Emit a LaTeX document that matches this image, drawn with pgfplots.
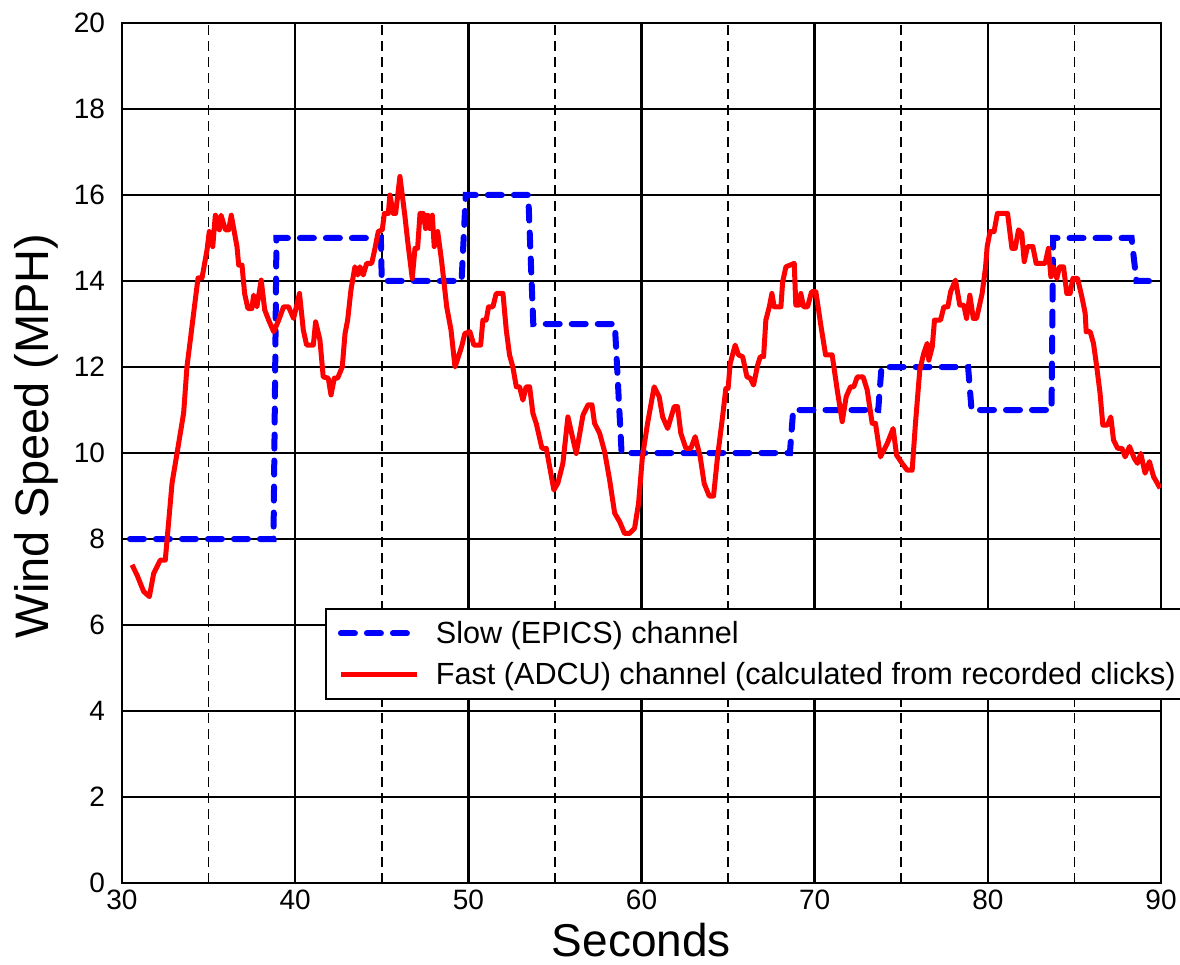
\documentclass[border=0pt]{standalone}
\usepackage{fontspec}
\setmainfont{Liberation Sans}
\usepackage{pgfplots}
\pgfplotsset{compat=1.18}

\begin{document}
\begin{tikzpicture}
\begin{axis}[
  name=ax,
  width=519.5pt, height=430pt, scale only axis,
  xmin=30, xmax=90, ymin=0, ymax=20,
  xtick={30,40,...,90}, minor xtick={35,45,...,85},
  ytick={0,2,...,20},
  major tick length=0pt, minor tick length=0pt,
  grid=both,
  major grid style={black, line width=1.2pt},
  minor grid style={black, line width=0.9pt, dash pattern=on 5pt off 3pt},
  axis line style={black, line width=1.2pt},
  /pgf/number format/assume math mode=true,
  ticklabel style={font=\fontsize{14}{16}\selectfont},
  yticklabel style={xshift=-5pt},
  xticklabel style={yshift=0pt},
  xlabel={Seconds}, ylabel={Wind Speed (MPH)},
  xlabel style={font=\fontsize{23}{26}\selectfont, at={(axis description cs:0.5,-0.066)}, anchor=center},
  ylabel style={font=\fontsize{23.5}{26}\selectfont, at={(axis description cs:-0.082,0.52)}, anchor=center},
  legend cell align=left,
  legend style={at={(rel axis cs:0.1954,0.3198)}, anchor=north west,
    draw=black, line width=0.9pt, fill=white,
    font=\fontsize{15.3}{18}\selectfont, row sep=4pt,
    inner xsep=6pt, inner ysep=4pt,
    /tikz/every odd column/.append style={column sep=6pt}},
  legend image code/.code={\draw[#1] (0pt,0pt) -- (38pt,0pt);},
]
\addplot[blue, line width=3pt, line cap=round, dash pattern=on 7pt off 6pt]
  coordinates {(30.46,8) (38.75,8) (38.92,15) (44.95,15) (45.0,14) (49.61,14)
  (49.85,16) (53.46,16) (53.75,13) (58.46,13) (58.85,10) (68.57,10) (68.76,11)
  (73.67,11) (73.86,12) (78.86,12) (79.06,11) (83.68,11) (83.77,15) (88.3,15)
  (88.58,14) (90,14)};
\addlegendentry{Slow (EPICS) channel}
\addplot[red, line width=2.5pt, line join=round]
  coordinates {
  (30.58,7.40) (30.87,7.16) (31.25,6.78) (31.58,6.66) (31.83,7.20) (32.21,7.51)
  (32.50,7.51) (32.89,9.30) (33.18,10.00) (33.56,10.93) (33.75,12.00) (34.14,13.26)
  (34.39,14.07) (34.62,14.07) (34.91,14.72) (35.04,15.15) (35.24,14.80) (35.39,15.53)
  (35.62,15.19) (35.72,15.53) (35.97,15.19) (36.16,15.19) (36.31,15.53) (36.64,14.80)
  (36.74,14.37) (36.93,14.37) (37.08,13.71) (37.27,13.36) (37.50,13.36) (37.60,13.67)
  (37.79,13.40) (38.04,14.02) (38.24,13.33) (38.47,13.09) (38.76,12.82) (39.05,13.09)
  (39.33,13.40) (39.62,13.40) (39.91,13.13) (40.25,13.71) (40.47,12.86) (40.66,12.51)
  (41.05,12.51) (41.18,13.05) (41.43,12.63) (41.62,11.77) (41.91,11.74) (42.07,11.35)
  (42.26,11.74) (42.45,11.74) (42.72,12.00) (42.88,12.78) (43.03,13.09) (43.22,13.79)
  (43.45,14.33) (43.61,14.14) (43.74,14.33) (43.93,14.14) (44.13,14.41) (44.42,14.41)
  (44.61,14.76) (44.80,15.15) (45.03,15.19) (45.15,15.57) (45.38,15.57) (45.47,16.00)
  (45.67,15.57) (45.80,15.57) (46.05,16.43) (46.34,15.50) (46.49,14.95) (46.76,14.06)
  (46.92,14.76) (47.07,14.76) (47.21,15.57) (47.40,15.57) (47.53,15.22) (47.65,15.53)
  (47.78,15.22) (47.92,15.53) (48.03,14.80) (48.23,15.15) (48.46,14.45) (48.75,13.40)
  (49.00,12.86) (49.23,12.00) (49.61,12.47) (49.80,12.78) (50.09,12.82) (50.32,12.51)
  (50.71,12.51) (50.84,13.09) (51.03,13.09) (51.17,13.40) (51.42,13.40) (51.61,13.71)
  (52.00,13.71) (52.19,12.86) (52.38,12.28) (52.57,12.00) (52.77,11.54) (52.96,11.54)
  (53.15,11.23) (53.34,11.54) (53.54,11.54) (53.73,10.92) (53.92,10.69) (54.25,10.11)
  (54.50,10.11) (54.94,9.14) (55.17,9.30) (55.46,9.76) (55.75,10.84) (56.23,9.99)
  (56.62,10.88) (56.91,11.12) (57.14,11.12) (57.29,10.69) (57.58,10.46) (57.87,10.03)
  (58.16,9.37) (58.45,8.60) (58.74,8.40) (59.02,8.13) (59.31,8.13) (59.60,8.25)
  (59.83,8.83) (60.05,9.90) (60.35,10.69) (60.73,11.54) (61.02,11.31) (61.22,10.84)
  (61.51,10.57) (61.89,11.08) (62.08,11.08) (62.27,10.46) (62.56,10.11) (62.85,10.11)
  (63.10,10.38) (63.39,9.91) (63.62,9.29) (63.91,9.00) (64.16,9.00) (64.39,9.91)
  (64.68,10.84) (64.87,11.50) (65.00,11.50) (65.12,12.08) (65.41,12.51) (65.60,12.28)
  (65.84,12.24) (66.09,11.77) (66.28,11.74) (66.47,11.58) (66.71,12.05) (66.86,12.24)
  (67.05,12.24) (67.18,13.09) (67.38,13.40) (67.53,13.71) (67.66,13.40) (68.05,13.40)
  (68.15,13.98) (68.34,14.33) (68.82,14.41) (68.91,13.44) (69.10,13.44) (69.20,13.71)
  (69.36,13.40) (69.59,13.40) (69.82,13.75) (70.07,13.75) (70.34,13.01) (70.63,12.28)
  (71.01,12.28) (71.30,11.47) (71.59,10.73) (71.82,11.31) (72.07,11.54) (72.26,11.54)
  (72.46,11.77) (72.80,11.77) (73.03,11.47) (73.32,10.69) (73.51,10.69) (73.80,9.91)
  (74.19,10.22) (74.53,10.57) (74.73,9.95) (75.05,9.76) (75.34,9.60) (75.63,9.60)
  (75.82,10.69) (76.07,11.93) (76.30,12.32) (76.50,12.55) (76.59,12.16) (76.79,12.47)
  (76.92,13.09) (77.27,13.09) (77.46,13.40) (77.69,13.40) (77.85,13.75) (78.13,14.02)
  (78.38,13.44) (78.61,13.44) (78.77,13.13) (78.96,13.67) (79.16,13.13) (79.35,13.13)
  (79.67,13.71) (79.87,14.33) (79.96,14.80) (80.13,15.15) (80.36,15.15) (80.55,15.57)
  (81.14,15.57) (81.39,14.76) (81.58,14.76) (81.77,15.19) (81.96,15.11) (82.10,14.45)
  (82.29,14.80) (82.60,14.80) (82.79,14.41) (83.31,14.41) (83.50,14.76) (83.64,14.10)
  (83.79,14.33) (83.98,14.06) (84.14,14.33) (84.37,14.33) (84.56,13.71) (84.75,13.71)
  (84.91,14.06) (85.18,14.06) (85.43,13.63) (85.62,13.25) (85.68,12.82) (85.91,12.82)
  (86.10,12.55) (86.29,12.00) (86.48,11.39) (86.64,10.65) (86.91,10.65) (87.10,10.84)
  (87.26,10.30) (87.49,10.11) (87.74,10.11) (87.93,9.91) (88.18,10.15) (88.45,9.88)
  (88.64,9.76) (88.83,9.99) (89.08,9.53) (89.33,9.80) (89.57,9.45) (89.95,9.18)};
\addlegendentry{Fast (ADCU) channel (calculated from recorded clicks)}
\end{axis}
\pgfresetboundingbox
\path ([shift={(-61pt,-40.5pt)}]ax.south west) rectangle ([shift={(9.5pt,11.5pt)}]ax.north east);
\end{tikzpicture}
\end{document}
